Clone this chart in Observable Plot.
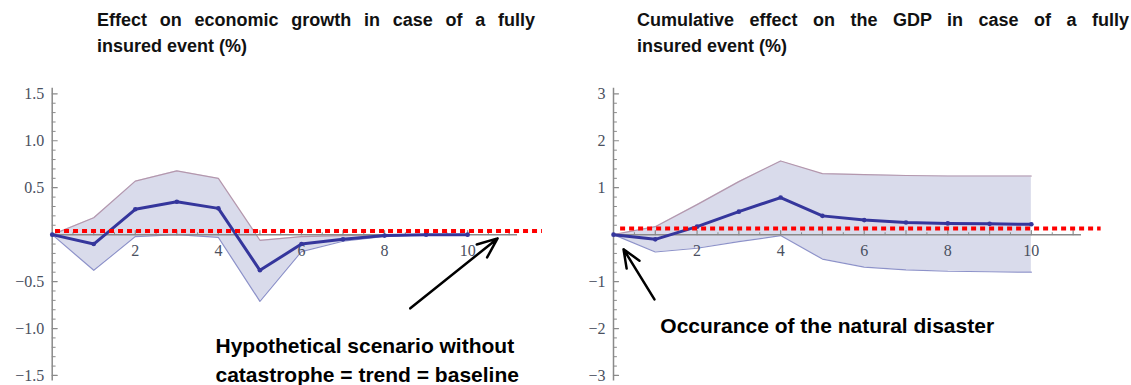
<!DOCTYPE html>
<html>
<head>
<meta charset="utf-8">
<script src="https://cdn.jsdelivr.net/npm/d3@7"></script>
<script src="https://cdn.jsdelivr.net/npm/@observablehq/plot@0.6"></script>
<style>
  html, body { margin: 0; padding: 0; background: #fff; }
  #wrap { position: relative; width: 1131px; height: 385px; overflow: hidden; }
  .title { position: absolute; font-family: "Liberation Sans", Arial, sans-serif; font-weight: bold; font-size: 18px; line-height: 26px; color: #111; white-space: nowrap; }
  .title .l1 { text-align: justify; text-align-last: justify; white-space: normal; }
  .chart { position: absolute; top: 70px; }
  .chart svg { overflow: visible; }
</style>
</head>
<body>
<div id="wrap">
  <div class="title" id="t1" style="left:97px; top:7px; width:438px;"></div>
  <div class="title" id="t2" style="left:637px; top:7px; width:492px;"></div>
  <div class="chart" id="c1" style="left:0px;"></div>
  <div class="chart" id="c2" style="left:565px;"></div>
</div>
<script>
// ---- data ----
const years = [0, 1, 2, 3, 4, 5, 6, 7, 8, 9, 10];

const growthMean  = [0, -0.10, 0.27, 0.35, 0.28, -0.38, -0.10, -0.05, -0.01, 0.00, 0.00];
const growthUpper = [0,  0.18, 0.57, 0.68, 0.60, -0.06, -0.02, -0.01,  0.00, 0.00, 0.00];
const growthLower = [0, -0.38, -0.02, 0.00, -0.03, -0.71, -0.18, -0.07, -0.02, 0.00, 0.00];

const gdpMean  = [0, -0.10, 0.17, 0.49, 0.79, 0.40, 0.31, 0.26, 0.24, 0.23, 0.22];
const gdpUpper = [0,  0.17, 0.64, 1.13, 1.57, 1.30, 1.28, 1.26, 1.25, 1.25, 1.25];
const gdpLower = [0, -0.37, -0.29, -0.15, -0.02, -0.52, -0.69, -0.75, -0.78, -0.79, -0.80];

const growthYTicks = [-1.5, -1.0, -0.5, 0.5, 1.0, 1.5];
const gdpYTicks = [-3, -2, -1, 1, 2, 3];
const xTickLabels = [2, 4, 6, 8, 10];

const title1Lines = ["Effect on economic growth in case of a fully", "insured event (%)"];
const title2Lines = ["Cumulative effect on the GDP in case of a fully", "insured event (%)"];

// baseline (trend) dotted line: [x start, x end], level
const growthBaseline = {x: [0.08, 11.8], y: 0.04};
const gdpBaseline = {x: [0.17, 11.67], y: 0.13};

// annotations
const growthNotes = [
  {x: 3.93, y: -1.19, text: "Hypothetical scenario without"},
  {x: 3.93, y: -1.50, text: "catastrophe = trend = baseline"}
];
const growthArrow = [{x1: 8.62, y1: -0.785, x2: 10.72, y2: -0.04}];
const gdpNotes = [{x: 1.12, y: -1.95, text: "Occurance of the natural disaster"}];
const gdpArrow = [{x1: 0.98, y1: -1.38, x2: 0.24, y2: -0.31}];

// ---- drawing ----
function setTitle(id, lines) {
  const el = document.getElementById(id);
  const a = document.createElement("div"); a.className = "l1"; a.textContent = lines[0];
  const b = document.createElement("div"); b.textContent = lines[1];
  el.appendChild(a); el.appendChild(b);
}
setTitle("t1", title1Lines);
setTitle("t2", title2Lines);

const lineShape = {draw(ctx, l) { ctx.moveTo(0, 0); ctx.lineTo(0, -l); }};

function chart({mean, upper, lower, yMax, yTicks, minorStep, fmt, baseline, notes, arrow, width, marginLeft, marginRight}) {
  const rows = years.map((t, i) => ({t, m: mean[i], u: upper[i], l: lower[i]}));
  const minorY = d3.range(-yMax, yMax + 1e-9, minorStep).map(v => +v.toFixed(4)).filter(v => Math.abs(v) > 1e-9);
  const majorY = yTicks;
  const minorOnly = minorY.filter(v => !majorY.some(m => Math.abs(m - v) < 1e-9));
  const xMinor = d3.range(0.5, 11.01, 0.5).map(v => +v.toFixed(2));
  const xMajor = xMinor.filter(v => v % 1 === 0);
  const xHalf = xMinor.filter(v => v % 1 !== 0);
  const axisColor = "#8a8a8a";
  const pad = yMax * 0.04;
  return Plot.plot({
    width, height: 315,
    marginLeft, marginRight, marginTop: 17.7, marginBottom: 4.4,
    x: {domain: [0, 11.2], axis: null},
    y: {domain: [-yMax - pad, yMax + pad], axis: null},
    style: {fontFamily: "'Liberation Serif', 'DejaVu Serif', serif", fontSize: "16px", overflow: "visible"},
    marks: [
      Plot.areaY(rows, {x: "t", y1: "l", y2: "u", fill: "#d9dbeb", curve: "linear"}),
      Plot.lineY(rows, {x: "t", y: "u", stroke: "#b497ad", strokeWidth: 1.2}),
      Plot.lineY(rows, {x: "t", y: "l", stroke: "#8d92c9", strokeWidth: 1.2}),
      Plot.ruleX([0], {stroke: axisColor, strokeWidth: 1.5}),
      Plot.ruleY([0], {stroke: axisColor, strokeWidth: 1.5}),
      Plot.vector(majorY, {x: 0, y: d => d, length: 5, rotate: 90, anchor: "start", shape: lineShape, stroke: axisColor, strokeWidth: 1.2}),
      Plot.vector(minorOnly, {x: 0, y: d => d, length: 3, rotate: 90, anchor: "start", shape: lineShape, stroke: axisColor, strokeWidth: 1}),
      Plot.vector(xMajor, {x: d => d, y: 0, length: 4, anchor: "start", shape: lineShape, stroke: axisColor, strokeWidth: 1.2}),
      Plot.vector(xHalf, {x: d => d, y: 0, length: 2, anchor: "start", shape: lineShape, stroke: axisColor, strokeWidth: 1}),
      Plot.text(majorY, {x: 0, y: d => d, text: fmt, textAnchor: "end", dx: -8, fill: "#4a5060", fontSize: 16}),
      Plot.text(xTickLabels, {x: d => d, y: 0, text: d => String(d), dy: 16, fill: "#4a5060", fontSize: 16}),
      Plot.lineY(rows, {x: "t", y: "m", stroke: "#35369c", strokeWidth: 3}),
      Plot.dot(rows, {x: "t", y: "m", r: 2.3, fill: "#35369c"}),
      Plot.ruleY([baseline.y], {x1: baseline.x[0], x2: baseline.x[1], stroke: "#ff0000", strokeWidth: 4, strokeDasharray: "5,4"}),
      Plot.arrow(arrow, {x1: "x1", y1: "y1", x2: "x2", y2: "y2", stroke: "#000", strokeWidth: 2.5, headLength: 13, headAngle: 45}),
      Plot.text(notes, {x: "x", y: "y", text: "text", textAnchor: "start", fontFamily: "'Liberation Sans', Arial, sans-serif", fontWeight: "bold", fontSize: 21, fill: "#000"})
    ]
  });
}

const fmt1 = d => (d < 0 ? "\u2212" : "") + Math.abs(d).toFixed(1);
const fmt0 = d => (d < 0 ? "\u2212" : "") + Math.abs(d).toFixed(0);

document.getElementById("c1").appendChild(chart({
  mean: growthMean, upper: growthUpper, lower: growthLower,
  yMax: 1.5, yTicks: growthYTicks, minorStep: 0.1, fmt: fmt1,
  baseline: growthBaseline, notes: growthNotes, arrow: growthArrow,
  width: 565, marginLeft: 51.7, marginRight: 48
}));
document.getElementById("c2").appendChild(chart({
  mean: gdpMean, upper: gdpUpper, lower: gdpLower,
  yMax: 3, yTicks: gdpYTicks, minorStep: 0.2, fmt: fmt0,
  baseline: gdpBaseline, notes: gdpNotes, arrow: gdpArrow,
  width: 566, marginLeft: 48, marginRight: 50
}));
</script>
</body>
</html>
